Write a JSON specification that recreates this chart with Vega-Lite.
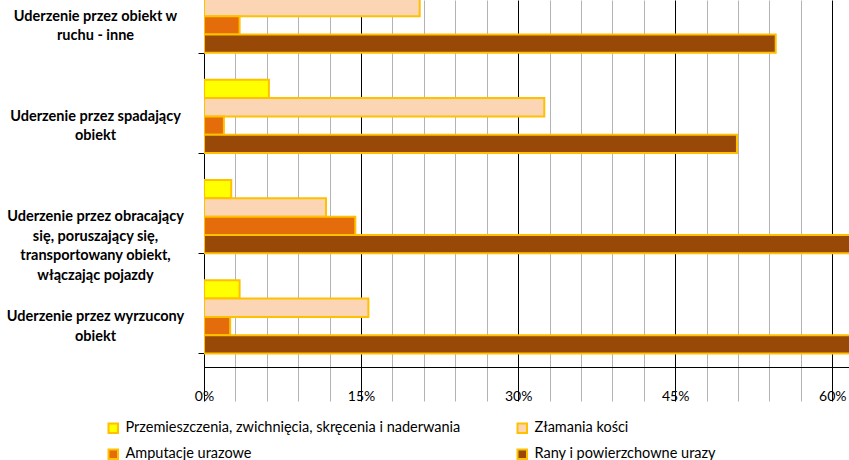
{
  "$schema": "https://vega.github.io/schema/vega-lite/v6.json",
  "width": 645,
  "height": 367,
  "autosize": {"type": "none"},
  "padding": {"left": 204, "top": 0, "right": 0, "bottom": 93},
  "background": "white",
  "config": {"view": {"stroke": null}, "font": "Lato"},
  "data": {
    "values": [
      {"category": "Uderzenie przez obiekt w ruchu - inne", "series": "Przemieszczenia, zwichnięcia, skręcenia i naderwania", "value": 5},
      {"category": "Uderzenie przez obiekt w ruchu - inne", "series": "Złamania kości", "value": 20.6},
      {"category": "Uderzenie przez obiekt w ruchu - inne", "series": "Amputacje urazowe", "value": 3.4},
      {"category": "Uderzenie przez obiekt w ruchu - inne", "series": "Rany i powierzchowne urazy", "value": 54.6},
      {"category": "Uderzenie przez spadający obiekt", "series": "Przemieszczenia, zwichnięcia, skręcenia i naderwania", "value": 6.2},
      {"category": "Uderzenie przez spadający obiekt", "series": "Złamania kości", "value": 32.5},
      {"category": "Uderzenie przez spadający obiekt", "series": "Amputacje urazowe", "value": 1.9},
      {"category": "Uderzenie przez spadający obiekt", "series": "Rany i powierzchowne urazy", "value": 50.9},
      {"category": "Uderzenie przez obracający się, poruszający się, transportowany obiekt, włączając pojazdy", "series": "Przemieszczenia, zwichnięcia, skręcenia i naderwania", "value": 2.6},
      {"category": "Uderzenie przez obracający się, poruszający się, transportowany obiekt, włączając pojazdy", "series": "Złamania kości", "value": 11.65},
      {"category": "Uderzenie przez obracający się, poruszający się, transportowany obiekt, włączając pojazdy", "series": "Amputacje urazowe", "value": 14.45},
      {"category": "Uderzenie przez obracający się, poruszający się, transportowany obiekt, włączając pojazdy", "series": "Rany i powierzchowne urazy", "value": 70},
      {"category": "Uderzenie przez wyrzucony obiekt", "series": "Przemieszczenia, zwichnięcia, skręcenia i naderwania", "value": 3.4},
      {"category": "Uderzenie przez wyrzucony obiekt", "series": "Złamania kości", "value": 15.7},
      {"category": "Uderzenie przez wyrzucony obiekt", "series": "Amputacje urazowe", "value": 2.5},
      {"category": "Uderzenie przez wyrzucony obiekt", "series": "Rany i powierzchowne urazy", "value": 68}
    ]
  },
  "mark": {"type": "bar", "stroke": "#FFC000", "strokeWidth": 2, "clip": true},
  "encoding": {
    "y": {
      "field": "category",
      "type": "nominal",
      "sort": ["Uderzenie przez obiekt w ruchu - inne", "Uderzenie przez spadający obiekt", "Uderzenie przez obracający się, poruszający się, transportowany obiekt, włączając pojazdy", "Uderzenie przez wyrzucony obiekt"],
      "scale": {"range": [-34, 367], "paddingInner": 0.27, "paddingOuter": 0.135},
      "axis": {
        "title": null,
        "domainColor": "black",
        "tickColor": "black",
        "tickSize": 6,
        "tickBand": "extent",
        "labelAlign": "center",
        "labelBaseline": "middle",
        "labelPadding": 103,
        "labelFont": "Lato",
        "labelFontWeight": "bold",
        "labelFontSize": 14.5,
        "labelLineHeight": 19.5,
        "labelColor": "black",
        "labelLimit": 300,
        "labelExpr": "datum.value == 'Uderzenie przez obiekt w ruchu - inne' ? ['Uderzenie przez obiekt w', 'ruchu - inne'] : datum.value == 'Uderzenie przez spadający obiekt' ? ['Uderzenie przez spadający', 'obiekt'] : datum.value == 'Uderzenie przez wyrzucony obiekt' ? ['Uderzenie przez wyrzucony', 'obiekt'] : datum.value == 'Uderzenie przez obracający się, poruszający się, transportowany obiekt, włączając pojazdy' ? ['Uderzenie przez obracający', 'się, poruszający się,', 'transportowany obiekt,', 'włączając pojazdy'] : ''"
      }
    },
    "yOffset": {
      "field": "series",
      "sort": ["Przemieszczenia, zwichnięcia, skręcenia i naderwania", "Złamania kości", "Amputacje urazowe", "Rany i powierzchowne urazy"],
      "scale": {"paddingInner": 0, "paddingOuter": 0}
    },
    "x": {
      "field": "value",
      "type": "quantitative",
      "scale": {"domain": [0, 61.6], "nice": false},
      "axis": {
        "title": null,
        "values": [0, 3, 6, 9, 12, 15, 18, 21, 24, 27, 30, 33, 36, 39, 42, 45, 48, 51, 54, 57, 60],
        "grid": true,
        "gridColor": {"condition": {"test": "datum.value % 15 == 0", "value": "black"}, "value": "#B3B3B3"},
        "gridWidth": 1,
        "domainColor": "black",
        "tickColor": "black",
        "tickSize": 6,
        "tickOpacity": {"condition": {"test": "datum.value % 15 == 0", "value": 1}, "value": 0},
        "labelExpr": "datum.value % 15 == 0 ? datum.value + '%' : ''",
        "labelPadding": 16,
        "labelFont": "Lato",
        "labelFontSize": 14,
        "labelColor": "black",
        "labelFlush": false
      }
    },
    "color": {
      "field": "series",
      "type": "nominal",
      "scale": {
        "domain": ["Przemieszczenia, zwichnięcia, skręcenia i naderwania", "Amputacje urazowe", "Złamania kości", "Rany i powierzchowne urazy"],
        "range": ["#FFFF00", "#E46C0A", "#FCD5B5", "#984807"]
      },
      "legend": {
        "title": null,
        "orient": "none",
        "legendX": -98,
        "legendY": 421,
        "columns": 2,
        "symbolType": "square",
        "symbolSize": 90,
        "symbolStrokeColor": "#FFC000",
        "symbolStrokeWidth": 2,
        "labelFont": "Lato",
        "labelFontSize": 14.5,
        "labelColor": "black",
        "labelLimit": 500,
        "labelOffset": 5,
        "rowPadding": 8,
        "columnPadding": 52
      }
    }
  }
}
